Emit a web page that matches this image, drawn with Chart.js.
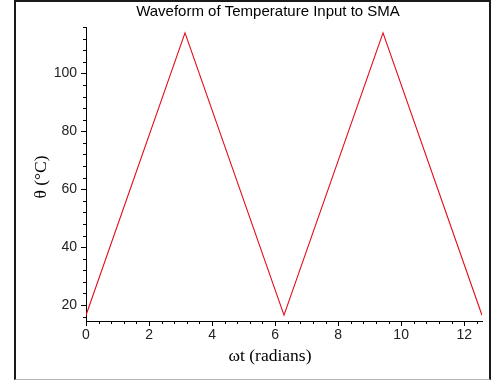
<!DOCTYPE html>
<html>
<head>
<meta charset="utf-8">
<script src="https://cdn.jsdelivr.net/npm/chart.js@4"></script>
<style>
  html, body { margin: 0; padding: 0; background: #fff; }
  #wrap { position: relative; width: 492px; height: 381px; overflow: hidden; }
  #plot { position: absolute; left: 0; top: 0; }
  #frame {
    position: absolute; left: 14px; top: 0; width: 473px; height: 377px;
    border-left: 2px solid #1a1a1a; border-top: 2px solid #1a1a1a;
    border-right: 2px solid #1a1a1a; border-bottom: 1px solid #b4b4b4;
    pointer-events: none;
  }
</style>
</head>
<body>
<div id="wrap">
  <canvas id="plot" width="492" height="381"></canvas>
  <div id="frame"></div>
</div>
<script>
// Phase angle ωt (radians) at the corners of the triangular temperature wave
const phase = [0, 3.1416, 6.2832, 9.4248, 12.566];
// Temperature θ (°C) at those corners
const theta = [16.5, 114, 16.5, 114, 16.5];

// Labelled tick values
const xTicks = [0, 2, 4, 6, 8, 10, 12];
const yTicks = [20, 40, 60, 80, 100];

const titleText = 'Waveform of Temperature Input to SMA';
const xLabel = 'ωt (radians)';
const yLabel = 'θ (°C)';

// Unlabelled minor ticks: five subdivisions between labelled ticks
const xMinor = [];
for (let i = 1; i <= 31; i++) if (i % 5 !== 0) xMinor.push(i * 0.4);
const yMinor = [];
for (let v = 16; v <= 116; v += 4) if (v % 20 !== 0) yMinor.push(v);

const minorTicks = {
  id: 'minorTicks',
  afterDraw(chart) {
    const { ctx, chartArea: a, scales: { x, y } } = chart;
    ctx.save();
    ctx.strokeStyle = '#000';
    ctx.lineWidth = 1;
    ctx.beginPath();
    for (const v of xMinor) {
      const px = Math.round(x.getPixelForValue(v)) + 0.5;
      ctx.moveTo(px, a.bottom);
      ctx.lineTo(px, a.bottom + 3);
    }
    for (const v of yMinor) {
      const py = Math.round(y.getPixelForValue(v)) + 0.5;
      ctx.moveTo(a.left, py);
      ctx.lineTo(a.left - 3, py);
    }
    ctx.stroke();
    ctx.restore();
  }
};

const captions = {
  id: 'captions',
  afterDraw(chart) {
    const { ctx, chartArea: a } = chart;
    const mid = (a.left + a.right) / 2;
    ctx.save();
    ctx.fillStyle = '#000';
    ctx.textAlign = 'center';
    ctx.textBaseline = 'middle';
    ctx.font = '15px "Liberation Sans", Arial, sans-serif';
    ctx.fillText(titleText, mid - 16, a.top - 15);
    ctx.font = '17.5px "Liberation Serif", "Times New Roman", serif';
    ctx.fillText(xLabel, mid - 14, a.bottom + 35);
    ctx.translate(a.left - 45, (a.top + a.bottom) / 2 + 3);
    ctx.rotate(-Math.PI / 2);
    ctx.fillText(yLabel, 0, 0);
    ctx.restore();
  }
};

const tickFont = { family: '"Liberation Sans", Arial, sans-serif', size: 14 };

new Chart(document.getElementById('plot'), {
  type: 'line',
  data: {
    datasets: [{
      data: phase.map((p, i) => ({ x: p, y: theta[i] })),
      borderColor: 'rgb(226, 12, 24)',
      borderWidth: 1.1,
      pointRadius: 0,
      tension: 0,
      fill: false
    }]
  },
  options: {
    responsive: false,
    animation: false,
    devicePixelRatio: 1,
    layout: { padding: { left: 0, top: 27, right: 10, bottom: 0 } },
    plugins: { legend: { display: false }, tooltip: { enabled: false }, title: { display: false } },
    scales: {
      x: {
        type: 'linear',
        min: 0,
        max: 12.566,
        afterBuildTicks: s => { s.ticks = xTicks.map(v => ({ value: v })); },
        afterFit: s => { s.height = 60; },
        grid: { drawOnChartArea: false, drawTicks: true, tickLength: 5, color: '#000' },
        border: { color: '#000', width: 1 },
        ticks: { font: tickFont, color: '#222', padding: 1, maxRotation: 0, autoSkip: false }
      },
      y: {
        type: 'linear',
        min: 14.5,
        max: 116,
        afterBuildTicks: s => { s.ticks = yTicks.map(v => ({ value: v })); },
        afterFit: s => { s.width = 86; },
        grid: { drawOnChartArea: false, drawTicks: true, tickLength: 5, color: '#000' },
        border: { color: '#000', width: 1 },
        ticks: { font: tickFont, color: '#222', padding: 4 }
      }
    }
  },
  plugins: [minorTicks, captions]
});
</script>
</body>
</html>
